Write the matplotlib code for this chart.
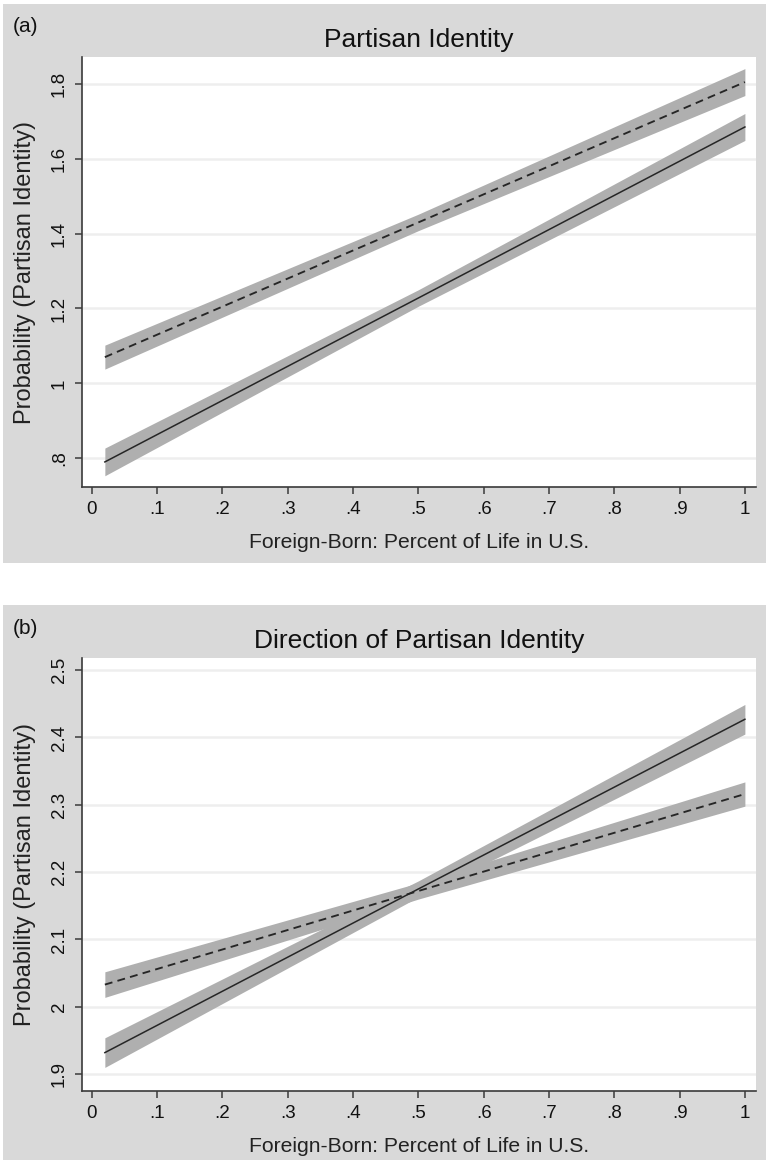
import matplotlib
matplotlib.use("Agg")
import matplotlib.pyplot as plt
from matplotlib.patches import Rectangle

# ---- data -------------------------------------------------------------
pct_life = [0.02, 0.5, 1.0]

# (a) Partisan Identity
pid_solid = [0.79, 1.228, 1.685]
pid_solid_ci = [0.037, 0.022, 0.036]
pid_dashed = [1.07, 1.43, 1.805]
pid_dashed_ci = [0.032, 0.022, 0.036]

# (b) Direction of Partisan Identity
dir_solid = [1.932, 2.175, 2.427]
dir_solid_ci = [0.022, 0.012, 0.022]
dir_dashed = [2.033, 2.172, 2.316]
dir_dashed_ci = [0.019, 0.012, 0.018]

x_ticks = [0, .1, .2, .3, .4, .5, .6, .7, .8, .9, 1]
x_ticklabels = ["0", ".1", ".2", ".3", ".4", ".5", ".6", ".7", ".8", ".9", "1"]
a_yticks = [0.8, 1.0, 1.2, 1.4, 1.6, 1.8]
a_yticklabels = [".8", "1", "1.2", "1.4", "1.6", "1.8"]
b_yticks = [1.9, 2.0, 2.1, 2.2, 2.3, 2.4, 2.5]
b_yticklabels = ["1.9", "2", "2.1", "2.2", "2.3", "2.4", "2.5"]

x_title = "Foreign-Born: Percent of Life in U.S."
y_title = "Probability (Partisan Identity)"

# ---- style ------------------------------------------------------------
W, H = 766, 1160
DPI = 100
plt.rcParams["font.family"] = ["Liberation Sans", "DejaVu Sans"]
PANEL_BG = "#d9d9d9"
BAND = "#afafaf"
LINE = "#262626"
SPINE = "#3a3a3a"
GRID = "#eeeeee"

fig = plt.figure(figsize=(W / DPI, H / DPI), dpi=DPI)
fig.patch.set_facecolor("white")


def px_rect(x0, y0, x1, y1):
    """Pixel box (top-left origin) -> figure fraction [l, b, w, h]."""
    return [x0 / W, 1 - y1 / H, (x1 - x0) / W, (y1 - y0) / H]


def fig_text(x, y, s, **kw):
    fig.text(x / W, 1 - y / H, s, **kw)


def panel(bg_box, ax_box, label, title, xs, ys_solid, ci_solid, ys_dash, ci_dash,
          yticks, yticklabels, ylim):
    # grey panel background, kept behind the axes
    l, b, w, h = px_rect(*bg_box)
    fig.patches.append(Rectangle((l, b), w, h, transform=fig.transFigure,
                                 facecolor=PANEL_BG, edgecolor="none", zorder=-10))
    ax = fig.add_axes(px_rect(*ax_box))
    ax.set_zorder(1)
    ax.set_facecolor("white")

    for ys, ci in ((ys_solid, ci_solid), (ys_dash, ci_dash)):
        lo = [y - c for y, c in zip(ys, ci)]
        hi = [y + c for y, c in zip(ys, ci)]
        ax.fill_between(xs, lo, hi, color=BAND, linewidth=0, zorder=2)
    ax.plot(xs, ys_solid, color=LINE, lw=1.1, zorder=3)
    ax.plot(xs, ys_dash, color=LINE, lw=1.35, ls=(0, (4.2, 2.8)), zorder=3)

    ax.set_xlim(-0.015, 1.017)
    ax.set_ylim(*ylim)
    ax.set_xticks(x_ticks)
    ax.set_xticklabels(x_ticklabels)
    ax.set_yticks(yticks)
    ax.set_yticklabels(yticklabels, rotation=90, va="center")
    ax.tick_params(axis="both", direction="out", length=5, width=1.1,
                   color=SPINE, labelsize=13.5, labelcolor="#111111", pad=5)
    ax.yaxis.grid(True, color=GRID, lw=1.8, zorder=1)
    ax.set_axisbelow(True)
    for side in ("top", "right"):
        ax.spines[side].set_visible(False)
    for side in ("left", "bottom"):
        ax.spines[side].set_color(SPINE)
        ax.spines[side].set_linewidth(1.2)

    x0, y0, x1, y1 = ax_box
    cx = (x0 + x1) / 2
    cy = (y0 + y1) / 2
    fig_text(bg_box[0] + 10, bg_box[1] + 23, label, fontsize=15, va="center", color="#111111")
    fig_text(cx, y0 - 10, title, fontsize=19, ha="center", va="baseline", color="#111111")
    fig_text(cx, y1 + 55, x_title, fontsize=15.2, ha="center", va="center", color="#222222")
    fig_text(25, cy, y_title, fontsize=17, ha="center", va="center",
             rotation=90, color="#222222")
    return ax


panel((3, 4, 766, 563), (82, 57, 756, 487), "(a)", "Partisan Identity",
      pct_life, pid_solid, pid_solid_ci, pid_dashed, pid_dashed_ci,
      a_yticks, a_yticklabels, (0.723, 1.872))

panel((3, 605, 766, 1160), (82, 658, 756, 1091), "(b)", "Direction of Partisan Identity",
      pct_life, dir_solid, dir_solid_ci, dir_dashed, dir_dashed_ci,
      b_yticks, b_yticklabels, (1.875, 2.518))

fig.savefig("out.png", dpi=DPI)
